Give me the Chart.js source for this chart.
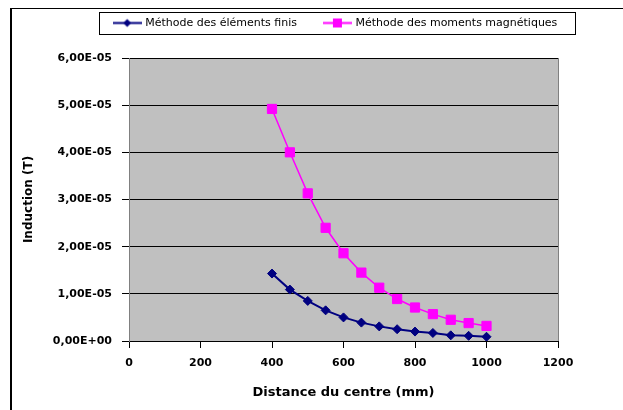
<!DOCTYPE html>
<html>
<head>
<meta charset="utf-8">
<script src="https://cdn.jsdelivr.net/npm/chart.js@4.4.1/dist/chart.umd.min.js"></script>
<style>
  body { margin: 0; background: #fff; overflow: hidden; }
  canvas { display: block; }
</style>
</head>
<body>
<canvas id="chart" width="623" height="410"></canvas>
<script>
// distances (mm) and induction values (T)
const distance = [400, 450, 500, 550, 600, 650, 700, 750, 800, 850, 900, 950, 1000];
const elementsFinis = [1.43e-5, 1.09e-5, 0.85e-5, 0.65e-5, 0.50e-5, 0.39e-5, 0.31e-5,
    0.25e-5, 0.20e-5, 0.17e-5, 0.12e-5, 0.11e-5, 0.09e-5];
const momentsMagnetiques = [4.92e-5, 4.00e-5, 3.13e-5, 2.40e-5, 1.86e-5, 1.45e-5, 1.13e-5,
    0.89e-5, 0.71e-5, 0.57e-5, 0.45e-5, 0.38e-5, 0.32e-5];
const seriesNames = ['Méthode des éléments finis', 'Méthode des moments magnétiques'];
const xTicks = [0, 1200, 200];      // min, max, step
const yTicks = [0, 6e-5, 1e-5];

const navy = '#000080';
const magenta = '#FF00FF';

Chart.defaults.font.family = "'DejaVu Sans', sans-serif";
Chart.defaults.color = '#000';

function sci(v) {
    const parts = v.toExponential(2).split('e');
    const n = parseInt(parts[1]);
    return parts[0].replace('.', ',') + 'E' + (n < 0 ? '-' : '+') + String(Math.abs(n)).padStart(2, '0');
}

// little line + marker pictures for the legend
function legendMark(color, shape) {
    const c = document.createElement('canvas');
    c.width = 29; c.height = 11;
    const g = c.getContext('2d');
    g.strokeStyle = color;
    g.lineWidth = 2;
    g.beginPath(); g.moveTo(0, 5.5); g.lineTo(29, 5.5); g.stroke();
    g.fillStyle = color;
    g.beginPath();
    if (shape === 'diamond') {
        g.moveTo(14.5, 1.5); g.lineTo(18.5, 5.5); g.lineTo(14.5, 9.5); g.lineTo(10.5, 5.5);
    } else {
        g.rect(10, 1, 9, 9);
    }
    g.fill();
    return c;
}
const marks = [legendMark(navy, 'diamond'), legendMark(magenta, 'square')];

const frame = {
    id: 'frame',
    afterLayout(chart) {
        // move the legend to where the reference has it
        const lg = chart.legend;
        lg.left += 57; lg.right += 57;
        lg.top -= 19.5; lg.bottom -= 19.5;
    },
    beforeDraw(chart) {
        const {ctx, chartArea: a} = chart;
        ctx.save();
        ctx.fillStyle = '#C0C0C0';
        ctx.fillRect(a.left, a.top, a.right - a.left, a.bottom - a.top);
        ctx.fillStyle = '#000';
        ctx.fillRect(10, 8, 2, 410);
        ctx.fillRect(10, 8, 623, 1);
        ctx.restore();
    },
    afterDraw(chart) {
        const hb = chart.legend.legendHitBoxes;
        if (!hb || !hb.length) return;
        const ctx = chart.ctx;
        const last = hb[hb.length - 1];
        const cy = hb[0].top + hb[0].height / 2;
        ctx.save();
        ctx.strokeStyle = '#000';
        ctx.lineWidth = 1;
        ctx.strokeRect(Math.round(hb[0].left - 16) + 0.5, Math.round(cy - 11) + 0.5,
            Math.round(last.left + last.width - hb[0].left + 33), 22);
        ctx.restore();
    }
};

new Chart(document.getElementById('chart'), {
    type: 'line',
    data: {
        datasets: [
            {
                label: seriesNames[0],
                data: distance.map((x, i) => ({x: x, y: elementsFinis[i]})),
                borderColor: navy,
                backgroundColor: navy,
                borderWidth: 2,
                pointStyle: 'rectRot',
                pointRadius: 4.5,
                pointBorderWidth: 1,
                tension: 0
            },
            {
                label: seriesNames[1],
                data: distance.map((x, i) => ({x: x, y: momentsMagnetiques[i]})),
                borderColor: magenta,
                backgroundColor: magenta,
                borderWidth: 1.5,
                pointStyle: 'rect',
                pointRadius: 6.5,
                pointBorderWidth: 1,
                tension: 0
            }
        ]
    },
    options: {
        responsive: false,
        animation: false,
        devicePixelRatio: 1,
        layout: {padding: {top: 9, right: 65, bottom: 0, left: 0}},
        plugins: {
            tooltip: {enabled: false},
            legend: {
                position: 'top',
                labels: {
                    font: {size: 11},
                    padding: 28,
                    usePointStyle: true,
                    pointStyleWidth: 25,
                    generateLabels(chart) {
                        const items = Chart.defaults.plugins.legend.labels.generateLabels(chart);
                        items.forEach((it, i) => { it.pointStyle = marks[i]; });
                        return items;
                    }
                }
            }
        },
        scales: {
            x: {
                type: 'linear',
                min: xTicks[0],
                max: xTicks[1],
                afterFit(s) { s.height = 69; },
                ticks: {
                    stepSize: xTicks[2],
                    font: {size: 11, weight: 'bold'},
                    padding: 9,
                    maxRotation: 0,
                    callback: (v) => String(v)
                },
                grid: {
                    color: (c) => c.index === 6 ? '#808080' : 'rgba(0,0,0,0)',
                    tickColor: '#000',
                    tickLength: 7
                },
                border: {color: '#000'},
                title: {
                    display: true,
                    text: 'Distance du centre (mm)',
                    font: {size: 13, weight: 'bold'},
                    padding: {top: 0, bottom: 10}
                }
            },
            y: {
                min: yTicks[0],
                max: yTicks[1],
                afterFit(s) { s.width = 129; },
                ticks: {stepSize: yTicks[2], font: {size: 11, weight: 'bold'}, padding: 10, callback: (v) => sci(v)},
                grid: {color: '#000', tickColor: '#000', tickLength: 7},
                border: {color: '#808080'},
                title: {
                    display: true,
                    text: 'Induction (T)',
                    font: {size: 12, weight: 'bold'},
                    padding: {top: 22, bottom: 0}
                }
            }
        }
    },
    plugins: [frame]
});
</script>
</body>
</html>
